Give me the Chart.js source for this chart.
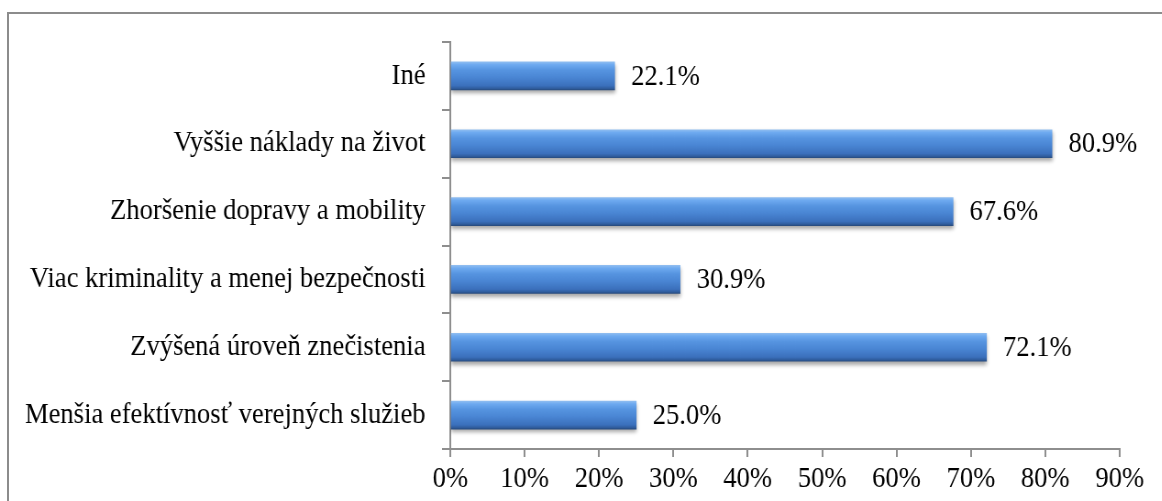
<!DOCTYPE html>
<html>
<head>
<meta charset="utf-8">
<script src="https://cdn.jsdelivr.net/npm/chart.js@4.4.1/dist/chart.umd.min.js"></script>
<style>
  html, body { margin: 0; padding: 0; background: #fff; overflow: hidden; }
  #frame { position: absolute; left: 7px; top: 12px; width: 1200px; height: 520px;
           border-left: 2px solid #8c8c8c; border-top: 2px solid #8c8c8c; }
  /* the source picture is squeezed sideways a bit, so the chart is drawn wider and scaled back */
  #wrap { position: absolute; left: 0; top: 0; width: 1267px; height: 501px;
          transform: scaleX(0.917); transform-origin: 0 0; }
</style>
</head>
<body>
<div id="frame"></div>
<div id="wrap"><canvas id="chart" width="1267" height="501"></canvas></div>
<script>
// data, top to bottom as in the picture
const categories = [
    'Iné',
    'Vyššie náklady na život',
    'Zhoršenie dopravy a mobility',
    'Viac kriminality a menej bezpečnosti',
    'Zvýšená úroveň znečistenia',
    'Menšia efektívnosť verejných služieb'
];
const shares = [22.1, 80.9, 67.6, 30.9, 72.1, 25.0];
const axisTicks = [0, 10, 20, 30, 40, 50, 60, 70, 80, 90];

const FONT = "'Liberation Serif', 'Times New Roman', serif";
const FONT_SIZE = 29;
const BAR_H = 28;

Chart.defaults.font.family = FONT;
Chart.defaults.font.size = FONT_SIZE;
Chart.defaults.color = '#000';

// vertical "cylinder" gradient for each bar
const barFill = (ctx) => {
    const yScale = ctx.chart.scales.y;
    if (!yScale || ctx.dataIndex === undefined) return '#4a86d0';
    const cy = yScale.getPixelForValue(ctx.dataIndex);
    if (!isFinite(cy)) return '#4a86d0';
    const g = ctx.chart.ctx.createLinearGradient(0, cy - BAR_H / 2, 0, cy + BAR_H / 2);
    g.addColorStop(0, '#8fbdf0');
    g.addColorStop(0.1, '#6eaaf0');
    g.addColorStop(0.3, '#5694e0');
    g.addColorStop(0.55, '#4a86d4');
    g.addColorStop(0.85, '#3b70bc');
    g.addColorStop(0.95, '#2f5c9c');
    g.addColorStop(1, '#284c80');
    return g;
};

const barShadow = {
    id: 'barShadow',
    beforeDatasetsDraw(chart) {
        const c = chart.ctx;
        c.save();
        c.shadowColor = 'rgba(0,0,0,0.35)';
        c.shadowBlur = 4;
        c.shadowOffsetY = 3;
    },
    afterDatasetsDraw(chart) {
        chart.ctx.restore();
    }
};

const valueLabels = {
    id: 'valueLabels',
    afterDatasetsDraw(chart) {
        const c = chart.ctx;
        const meta = chart.getDatasetMeta(0);
        c.save();
        c.font = FONT_SIZE + 'px ' + FONT;
        c.fillStyle = '#000';
        c.textAlign = 'left';
        c.textBaseline = 'middle';
        meta.data.forEach((bar, i) => {
            c.fillText(shares[i].toFixed(1) + '%', bar.x + 18, bar.y + 1);
        });
        c.restore();
    }
};

new Chart(document.getElementById('chart'), {
    type: 'bar',
    data: {
        labels: categories,
        datasets: [{
            data: shares,
            backgroundColor: barFill,
            borderWidth: 0,
            barThickness: BAR_H
        }]
    },
    plugins: [barShadow, valueLabels],
    options: {
        indexAxis: 'y',
        responsive: false,
        animation: false,
        layout: { padding: { top: 42, right: 46, bottom: 0, left: 0 } },
        plugins: { legend: { display: false }, tooltip: { enabled: false } },
        scales: {
            x: {
                min: axisTicks[0],
                max: axisTicks[axisTicks.length - 1],
                afterBuildTicks: (s) => { s.ticks = axisTicks.map(v => ({ value: v })); },
                afterFit: (s) => { s.height = 52; },
                grid: { drawOnChartArea: false, drawTicks: true, tickLength: 8, color: '#8e8e8e', lineWidth: 2 },
                border: { color: '#8e8e8e', width: 2 },
                ticks: { padding: 5, callback: v => v + '%' }
            },
            y: {
                afterFit: (s) => { s.width = 491; },
                grid: { drawOnChartArea: false, drawTicks: true, tickLength: 9, color: '#8e8e8e', lineWidth: 2 },
                border: { color: '#8e8e8e', width: 2 },
                ticks: { padding: 18 }
            }
        }
    }
});
</script>
</body>
</html>
